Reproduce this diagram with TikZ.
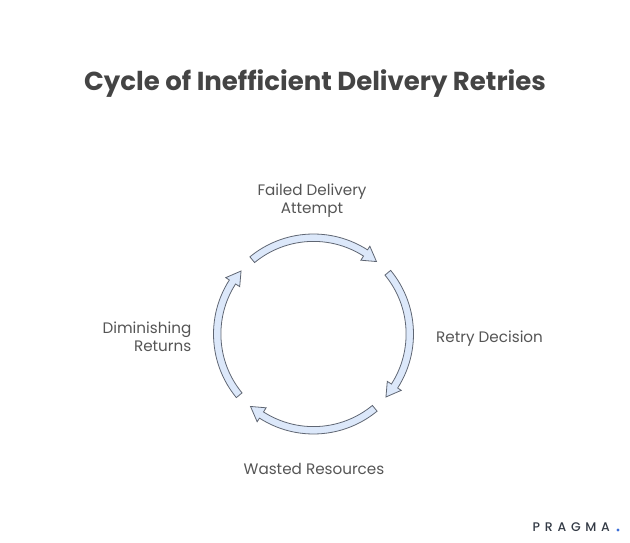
\documentclass[tikz,border=0pt]{standalone}
\usepackage{fontspec}
\setmainfont{Poppins}[Ligatures=NoCommon]
\newfontfamily\logofont{Poppins Medium}[LetterSpace=38]
\definecolor{arrowfill}{HTML}{DCE8FA}
\definecolor{arrowline}{HTML}{5F6673}
\definecolor{titlecol}{HTML}{444444}
\definecolor{labelcol}{HTML}{555555}
\definecolor{logocol}{HTML}{333A45}
\definecolor{logodot}{HTML}{3B6FD8}
\tikzset{
  titletext/.style={font=\fontsize{26}{30}\selectfont\bfseries,text=titlecol,inner sep=0pt},
  labeltext/.style={font=\fontsize{15.2}{18}\selectfont,text=labelcol,inner sep=0pt},
  cyclearrow/.style={draw=arrowline,fill=arrowfill,line width=0.8pt,line join=miter},
  logotext/.style={font=\fontsize{12.5}{14}\selectfont\logofont,text=logocol,inner sep=0pt}
}
\begin{document}
\begin{tikzpicture}[x=1pt,y=-1pt]
\useasboundingbox (0,0) rectangle (630,543);
\node[titletext] (title) at (315,83.5) {Cycle of Inefficient Delivery Retries};
\node[labeltext,align=center] (failed) at (312,201) {Failed Delivery\\Attempt};
\node[labeltext,anchor=west] (retry) at (436,339) {Retry Decision};
\node[labeltext] (wasted) at (314,469) {Wasted Resources};
\node[labeltext,align=right,anchor=east] (dimin) at (191.5,337) {Diminishing\\Returns};
\foreach \r in {0,-90,-180,-270}{
  \begin{scope}[shift={(313.5,334)},x=1pt,y=1pt,rotate=\r]
    \draw[cyclearrow] (129.5:92.6) arc[start angle=129.5,end angle=57.3,radius=92.6]
      -- (57.3:87.7) -- (49:96) -- (57.3:104.3) -- (57.3:100)
      arc[start angle=57.3,end angle=129.5,radius=100] -- cycle;
  \end{scope}
}
\node[logotext,anchor=west] (logo) at (532.5,527) {PRAGMA};
\fill[logodot] (618,530) circle (1.7);
\end{tikzpicture}
\end{document}
